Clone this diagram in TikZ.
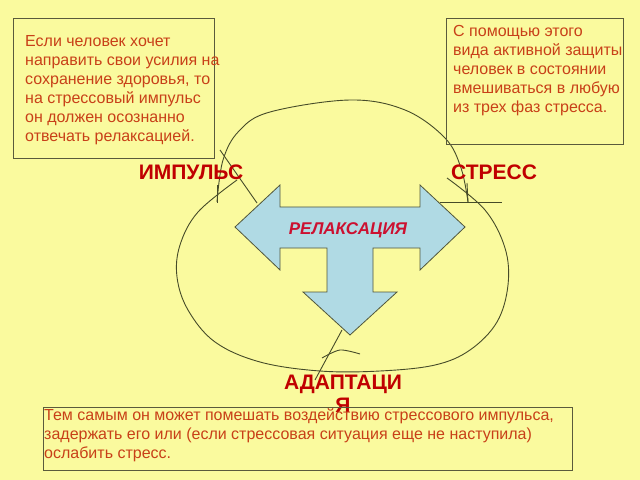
\documentclass[tikz,border=0pt]{standalone}
\usepackage{fontspec}
\setmainfont{Liberation Sans}
\definecolor{bg}{RGB}{250,250,158}
\definecolor{txt}{RGB}{200,64,24}
\definecolor{lbl}{RGB}{192,0,0}
\definecolor{rel}{RGB}{204,16,48}
\definecolor{arrowfill}{RGB}{176,218,228}
\definecolor{ln}{RGB}{70,75,40}
\definecolor{boxln}{RGB}{90,90,60}
\begin{document}
\begin{tikzpicture}[x=1bp,y=-1bp,
  textbox/.style={draw=boxln,line width=1bp,inner sep=0,anchor=north west},
  para/.style={text=txt,font=\fontsize{16bp}{19bp}\selectfont,align=left,anchor=north west,inner sep=0},
  phase/.style={text=lbl,font=\fontsize{21bp}{23bp}\selectfont\bfseries,anchor=base,inner sep=0},
  cycleline/.style={draw=ln,line width=0.9bp},
  tarrow/.style={draw=ln!80!gray,line width=0.8bp,fill=arrowfill}]
\fill[bg] (0,0) rectangle (640,480);
\useasboundingbox (0,0) rectangle (640,480);

% cycle curves
\draw[cycleline] plot[smooth,tension=0.6] coordinates{(217,202) (223,160) (239,131) (270,112) (350,100) (405,110) (445,138) (461,168) (468,202)};
\draw[cycleline] plot[smooth,tension=0.6] coordinates{(237,180) (198,212) (180,245) (177,277) (188,310) (215,342) (260,362) (320,371) (380,371) (435,365) (470,350) (497,322) (508,285) (505,248) (485,210) (447,178)};
\draw[cycleline] plot[smooth] coordinates{(322,358) (340,350) (360,354)};
\coordinate (t1a) at (220,150); \coordinate (t1b) at (257,203);
\coordinate (t2a) at (440,202); \coordinate (t2b) at (502,202);
\coordinate (t3a) at (467,183); \coordinate (t3b) at (468,202);
\coordinate (t4a) at (342,330); \coordinate (t4b) at (315,380);
\coordinate (t5a) at (217,185); \coordinate (t5b) at (217,203);
\draw[cycleline] (t1a) -- (t1b);
\draw[cycleline] (t2a) -- (t2b);
\draw[cycleline] (t3a) -- (t3b);
\draw[cycleline] (t4a) -- (t4b);
\draw[cycleline] (t5a) -- (t5b);

% T arrow
\draw[tarrow] (235,227) -- (280,185) -- (280,207) -- (420,207) -- (420,185) -- (465,227)
  -- (420,270) -- (420,248) -- (373,248) -- (373,292) -- (397,292) -- (350,335)
  -- (303,292) -- (327,292) -- (327,248) -- (280,248) -- (280,270) -- cycle;
\node[text=rel,font=\fontsize{17bp}{19bp}\selectfont\bfseries\itshape,anchor=base,inner sep=0] (relax) at (348,235) {РЕЛАКСАЦИЯ};

% phase labels
\node[phase] (imp) at (191,180) {ИМПУЛЬС};
\node[phase] (str) at (494,180) {СТРЕСС};
\node[phase] (ada) at (343,389) {АДАПТАЦИ};
\node[phase] (adb) at (343,412) {Я};

% text boxes
\node[textbox,minimum width=201bp,minimum height=140bp] (b1) at (13,18) {};
\node[para] (p1) at (25,32.5) {\rule{0pt}{14bp}Если человек хочет\\направить свои усилия на\\сохранение здоровья, то\\на стрессовый импульс\\он должен осознанно\\отвечать релаксацией.};
\node[textbox,minimum width=177bp,minimum height=126bp] (b2) at (446,18) {};
\node[para] (p2) at (453,22) {\rule{0pt}{14bp}С помощью этого\\вида активной защиты\\человек в состоянии\\вмешиваться в любую\\из трех фаз стресса.};
\node[textbox,minimum width=529bp,minimum height=63bp] (b3) at (43,407) {};
\node[para] (p3) at (44,406) {\rule{0pt}{14bp}Тем самым он может помешать воздействию стрессового импульса,\\задержать его или (если стрессовая ситуация еще не наступила)\\ослабить стресс.};
\end{tikzpicture}
\end{document}
